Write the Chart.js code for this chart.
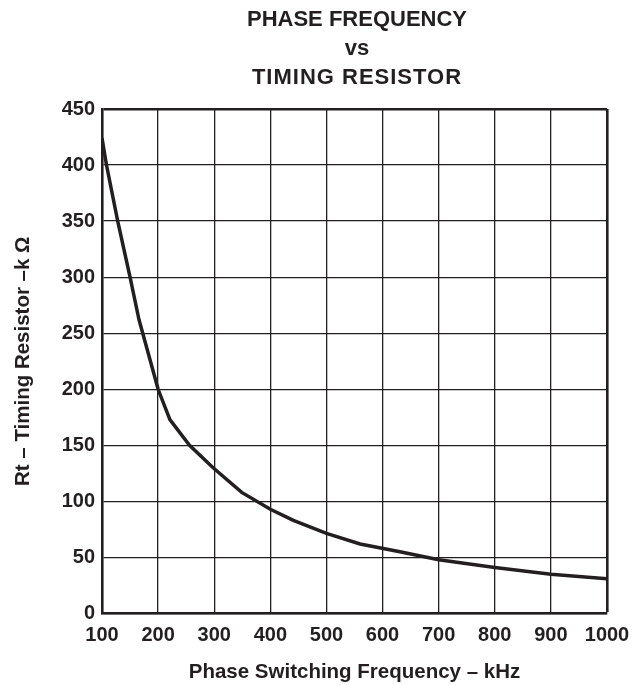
<!DOCTYPE html>
<html>
<head>
<meta charset="utf-8">
<script src="https://cdn.jsdelivr.net/npm/chart.js@4.4.1/dist/chart.umd.min.js"></script>
<style>
html, body { margin: 0; padding: 0; background: #ffffff; }
#wrap { width: 634px; height: 685px; }
</style>
</head>
<body>
<div id="wrap"><canvas id="c" width="634" height="685"></canvas></div>
<script>
// Data
const frequencyKHz = [100, 108, 128, 150, 166, 200, 221, 256, 298, 349, 400, 441, 500, 560, 631, 700, 800, 900, 1000];
const resistorKOhm = [424, 400, 350, 300, 262, 200, 173, 150, 130, 108, 93, 83, 71.5, 62, 55, 48, 41, 35, 31];

const titleLines = ['PHASE FREQUENCY', 'vs', 'TIMING RESISTOR'];
const xAxisTitle = 'Phase Switching Frequency – kHz';
const yAxisTitle = 'Rt – Timing Resistor –k Ω';

const xMin = 100, xMax = 1000, xStep = 100;
const yMin = 0, yMax = 450, yStep = 50;

const INK = '#231f20';
const FONT = "'Liberation Sans', Arial, Helvetica, sans-serif";

const points = frequencyKHz.map((f, i) => ({ x: f, y: resistorKOhm[i] }));

const titlePlugin = {
  id: 'multiTitle',
  afterDraw(chart) {
    const ctx = chart.ctx;
    ctx.save();
    ctx.fillStyle = INK;
    ctx.font = 'bold 22px ' + FONT;
    ctx.textAlign = 'center';
    ctx.textBaseline = 'middle';
    titleLines.forEach((t, i) => {
      ctx.letterSpacing = (i === 2) ? '1px' : '0px';
      ctx.fillText(t, 357, 20 + i * 29);
    });
    ctx.restore();
  }
};

new Chart(document.getElementById('c'), {
  type: 'line',
  data: {
    datasets: [{
      data: points,
      borderColor: INK,
      borderWidth: 3.5,
      pointRadius: 0,
      tension: 0,
      fill: false
    }]
  },
  options: {
    responsive: false,
    animation: false,
    layout: { padding: { top: 109, right: 27, bottom: 0, left: 0 } },
    plugins: { legend: { display: false }, tooltip: { enabled: false }, title: { display: false } },
    scales: {
      x: {
        type: 'linear',
        min: xMin, max: xMax,
        ticks: {
          stepSize: xStep, autoSkip: false, maxRotation: 0,
          color: INK, padding: 10,
          font: { family: FONT, size: 20, weight: 'bold' },
          callback: (v) => String(v)
        },
        grid: {
          color: INK,
          lineWidth: (c) => (c.tick && c.tick.value === xMax) ? 2.6 : 1.3,
          drawTicks: false
        },
        border: { color: INK, width: 2.6 },
        title: {
          display: true, text: xAxisTitle, color: INK,
          font: { family: FONT, size: 20.5, weight: 'bold' },
          padding: { top: 0, bottom: 0 }
        },
        afterFit(s) { s.height = 71.5; s.paddingLeft = 0; s.paddingRight = 0; }
      },
      y: {
        type: 'linear',
        min: yMin, max: yMax,
        ticks: {
          stepSize: yStep, color: INK, padding: 7,
          font: { family: FONT, size: 20, weight: 'bold' },
          callback: (v) => String(v)
        },
        grid: {
          color: INK,
          lineWidth: (c) => (c.tick && c.tick.value === yMax) ? 2.6 : 1.3,
          drawTicks: false
        },
        border: { color: INK, width: 2.6 },
        title: {
          display: true, text: yAxisTitle, color: INK,
          font: { family: FONT, size: 20.5, weight: 'bold' },
          padding: { top: 11.5, bottom: 0 }
        },
        afterFit(s) { s.width = 102; s.paddingTop = 0; s.paddingBottom = 0; }
      }
    }
  },
  plugins: [titlePlugin]
});
</script>
</body>
</html>
